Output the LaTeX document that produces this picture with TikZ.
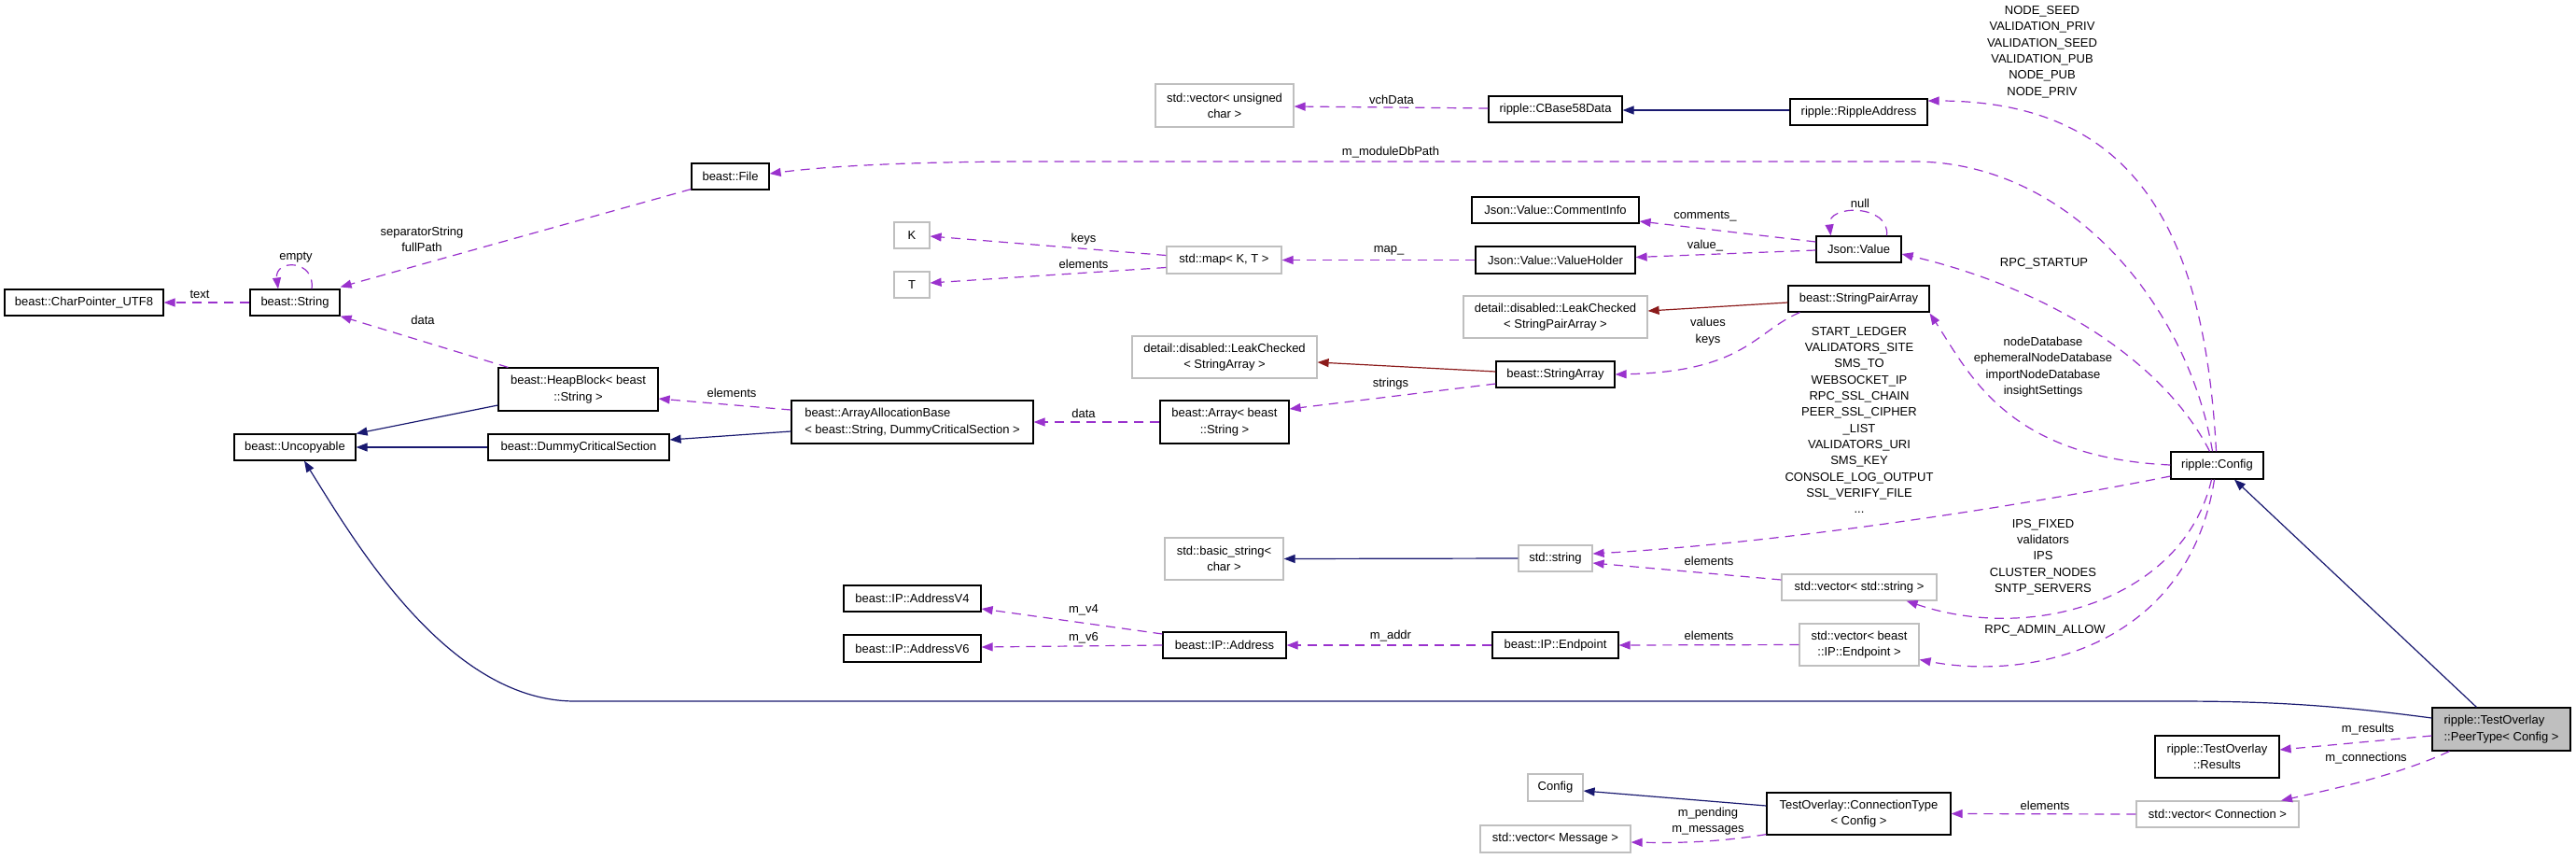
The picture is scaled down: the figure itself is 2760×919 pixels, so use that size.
\documentclass[tikz,border=0pt]{standalone}
\usepackage{fontspec}
\setmainfont{Liberation Sans}
\usetikzlibrary{arrows.meta,calc}
\definecolor{usecol}{RGB}{154,50,205}
\definecolor{inhcol}{RGB}{25,25,112}
\definecolor{redcol}{RGB}{139,26,26}
\definecolor{greycol}{RGB}{191,191,191}
\newcommand{\fs}{\fontsize{13}{17.3}\selectfont}
\tikzset{
  cls/.style={draw=black, line width=1.2pt, inner sep=0pt, align=center, font=\fs, fill=white},
  ext/.style={cls, draw=greycol},
  lbl/.style={inner sep=0pt, align=center, font=\fs},
  tipa/.style={-{Triangle[length=12pt,width=9pt]}},
  use/.style={draw=usecol, line width=1.2pt, dash pattern=on 10pt off 7pt, tipa},
  inh/.style={draw=inhcol, line width=1.2pt, tipa},
  tpl/.style={draw=redcol, line width=1.2pt, tipa},
}
\begin{document}
\begin{tikzpicture}[x=1pt,y=-1pt]
\useasboundingbox (0,0) rectangle (2760,919);
\fill[white] (0,0) rectangle (2760,919);
% ---------------- nodes ----------------
\node[cls, minimum width=170pt, minimum height=28pt] (charp) at (90,324) {beast::CharPointer\_UTF8};
\node[cls, minimum width=96pt, minimum height=28pt] (str) at (316,324) {beast::String};
\node[cls, minimum width=83pt, minimum height=28pt] (file) at (782.5,189) {beast::File};
\node[cls, minimum width=171pt, minimum height=46pt] (heap) at (619.5,417) {beast::HeapBlock< beast\\::String >};
\node[cls, minimum width=130pt, minimum height=28pt] (uncop) at (316,479) {beast::Uncopyable};
\node[cls, minimum width=194pt, minimum height=28pt] (dcs) at (620,479) {beast::DummyCriticalSection};
\node[ext, minimum width=38pt, minimum height=28pt] (K) at (977,252) {K};
\node[ext, minimum width=38pt, minimum height=28pt] (T) at (977,305) {T};
\node[ext, minimum width=123pt, minimum height=29pt] (map) at (1311.5,278.5) {std::map< K, T >};
\node[ext, minimum width=198pt, minimum height=45pt] (lcsa) at (1312,382.5) {detail::disabled::LeakChecked\\< StringArray >};
\node[cls, align=left, minimum width=259pt, minimum height=46pt] (aab) at (977.5,452) {beast::ArrayAllocationBase\\< beast::String, DummyCriticalSection >};
\node[cls, minimum width=138pt, minimum height=46pt] (arr) at (1312,452) {beast::Array< beast\\::String >};
\node[ext, minimum width=148pt, minimum height=46pt] (vuc) at (1312,113) {std::vector< unsigned\\char >};
\node[cls, minimum width=143pt, minimum height=28pt] (cb58) at (1666.5,117) {ripple::CBase58Data};
\node[cls, minimum width=147pt, minimum height=28pt] (ra) at (1991.5,120) {ripple::RippleAddress};
\node[cls, minimum width=179pt, minimum height=28pt] (ci) at (1666.5,225) {Json::Value::CommentInfo};
\node[cls, minimum width=171pt, minimum height=29pt] (vh) at (1666.5,278.5) {Json::Value::ValueHolder};
\node[cls, minimum width=91pt, minimum height=28pt] (jv) at (1991.5,267) {Json::Value};
\node[cls, minimum width=151pt, minimum height=28pt] (spa) at (1991.5,320) {beast::StringPairArray};
\node[ext, minimum width=197pt, minimum height=45pt] (lcspa) at (1666.5,339.5) {detail::disabled::LeakChecked\\< StringPairArray >};
\node[cls, minimum width=127pt, minimum height=28pt] (sa) at (1666.5,401) {beast::StringArray};
\node[ext, minimum width=127pt, minimum height=45pt] (bstr) at (1311.5,598.5) {std::basic\_string<\\char >};
\node[ext, minimum width=79pt, minimum height=28pt] (sstr) at (1666.5,598) {std::string};
\node[ext, minimum width=166pt, minimum height=28pt] (vstr) at (1992,629) {std::vector< std::string >};
\node[cls, minimum width=135pt, minimum height=28pt] (ep) at (1666.5,691) {beast::IP::Endpoint};
\node[ext, minimum width=128pt, minimum height=45pt] (vep) at (1992,690.5) {std::vector< beast\\::IP::Endpoint >};
\node[cls, minimum width=132pt, minimum height=28pt] (addr) at (1312,691) {beast::IP::Address};
\node[cls, minimum width=147pt, minimum height=28pt] (v4) at (977.5,641) {beast::IP::AddressV4};
\node[cls, minimum width=147pt, minimum height=29pt] (v6) at (977.5,694.5) {beast::IP::AddressV6};
\node[cls, minimum width=99pt, minimum height=29pt] (cfg) at (2375.5,498.5) {ripple::Config};
\node[cls, fill=greycol, align=left, minimum width=148pt, minimum height=46pt] (peer) at (2680,781) {ripple::TestOverlay\\::PeerType< Config >};
\node[cls, minimum width=133pt, minimum height=45pt] (res) at (2375.5,810.5) {ripple::TestOverlay\\::Results};
\node[ext, minimum width=174pt, minimum height=28pt] (vconn) at (2376,872) {std::vector< Connection >};
\node[cls, minimum width=197pt, minimum height=45pt] (ct) at (1991.5,871.5) {TestOverlay::ConnectionType\\< Config >};
\node[ext, minimum width=59pt, minimum height=29pt] (cfgT) at (1666.5,843.5) {Config};
\node[ext, minimum width=161pt, minimum height=29pt] (vmsg) at (1666.5,898.5) {std::vector< Message >};
% ---------------- labels ----------------
\node[lbl] (l1) at (214,315) {text};
\node[lbl] (l2) at (317,276) {empty};
\node[lbl] (l3) at (452,256) {separatorString\\fullPath};
\node[lbl] (l4) at (453,343) {data};
\node[lbl] (l5) at (784,421) {elements};
\node[lbl] (l6) at (1161,256) {keys};
\node[lbl] (l7) at (1161,283) {elements};
\node[lbl] (l8) at (1161,443) {data};
\node[lbl] (l9) at (1490,411) {strings};
\node[lbl] (l10) at (1488,268) {map\_};
\node[lbl] (l11) at (1827,232) {comments\_};
\node[lbl] (l12) at (1827,263) {value\_};
\node[lbl] (l13) at (1993,218) {null};
\node[lbl] (l14) at (1491,107) {vchData};
\node[lbl] (l15) at (1490,163) {m\_moduleDbPath};
\node[lbl] (l16) at (2188,55.5) {NODE\_SEED\\VALIDATION\_PRIV\\VALIDATION\_SEED\\VALIDATION\_PUB\\NODE\_PUB\\NODE\_PRIV};
\node[lbl] (l17) at (2190,282) {RPC\_STARTUP};
\node[lbl] (l18) at (1830,355) {values\\keys};
\node[lbl] (l19) at (2189,393) {nodeDatabase\\ephemeralNodeDatabase\\importNodeDatabase\\insightSettings};
\node[lbl] (l20) at (1992,450) {START\_LEDGER\\VALIDATORS\_SITE\\SMS\_TO\\WEBSOCKET\_IP\\RPC\_SSL\_CHAIN\\PEER\_SSL\_CIPHER\hspace*{36pt}\\\_LIST\\VALIDATORS\_URI\\SMS\_KEY\\CONSOLE\_LOG\_OUTPUT\\SSL\_VERIFY\_FILE\\...};
\node[lbl] (l21) at (1831,601) {elements};
\node[lbl] (l22) at (2189,596.5) {IPS\_FIXED\\validators\\IPS\\CLUSTER\_NODES\\SNTP\_SERVERS};
\node[lbl] (l23) at (2191,675) {RPC\_ADMIN\_ALLOW};
\node[lbl] (l24) at (1831,681) {elements};
\node[lbl] (l25) at (1490,681) {m\_addr};
\node[lbl] (l26) at (1161,653) {m\_v4};
\node[lbl] (l27) at (1161,683) {m\_v6};
\node[lbl] (l28) at (2537,781) {m\_results};
\node[lbl] (l29) at (2535,812) {m\_connections};
\node[lbl] (l30) at (2191,863) {elements};
\node[lbl] (l31) at (1830,879.5) {m\_pending\\m\_messages};
% ---------------- usage edges ----------------
\draw[use] (str.west) -- (charp.east);
\draw[use] ($(str.north)+(18,0)$) .. controls ($(str.north)+(22,-32)$) and ($(str.north)+(-22,-32)$) .. ($(str.north)+(-18,0)$);
\draw[use] ($(file.south west)+(0,-1)$) -- ($(str.north east)+(0,-2)$);
\draw[use] ($(heap.north west)+(11,0)$) -- (str.south east);
\draw[use] ($(aab.west)+(0,-13)$) -- ($(heap.east)+(0,10)$);
\draw[use] ($(map.west)+(0,-5)$) -- ($(K.east)+(0,1)$);
\draw[use] ($(map.west)+(0,8)$) -- ($(T.east)+(0,-2)$);
\draw[use] (arr.west) -- (aab.east);
\draw[use] ($(sa.west)+(0,10)$) -- ($(arr.east)+(0,-14)$);
\draw[use] (vh.west) -- (map.east);
\draw[use] ($(jv.west)+(0,-8)$) -- ($(ci.east)+(0,12)$);
\draw[use] ($(jv.west)+(0,1)$) -- ($(vh.east)+(0,-3)$);
\draw[use] ($(jv.north)+(30,0)$) .. controls ($(jv.north)+(34,-34)$) and ($(jv.north)+(-34,-34)$) .. ($(jv.north)+(-30,0)$);
\draw[use] ($(cb58.west)+(0,-1)$) -- ($(vuc.east)+(0,1)$);
\draw[use] ($(spa.south west)+(13,0)$) .. controls (1880,355) and (1870,398) .. (sa.east);
\draw[use] (ep.west) -- (addr.east);
\draw[use] (vep.west) -- (ep.east);
\draw[use] ($(addr.west)+(0,-12)$) -- ($(v4.east)+(0,11)$);
\draw[use] (addr.west) -- ($(v6.east)+(0,-1.5)$);
\draw[use] ($(vstr.west)+(0,-8)$) -- ($(sstr.east)+(0,5)$);
\draw[use] ($(cfg.west)+(0,11.5)$) .. controls (2150,545) and (1900,582) .. ($(sstr.east)+(0,-5)$);
\draw[use] ($(cfg.south)+(-6,0)$) .. controls (2340,640) and (2180,690) .. ($(vstr.south east)+(-33,0)$);
\draw[use] ($(cfg.south)+(-3,0)$) .. controls (2345,690) and (2180,730) .. ($(vep.east)+(0,16)$);
\draw[use] ($(cfg.west)+(0,-0.5)$) .. controls (2150,490) and (2110,400) .. ($(spa.south east)+(0,1)$);
\draw[use] ($(cfg.north)+(-8,0)$) .. controls (2320,390) and (2200,310) .. ($(jv.east)+(0,5)$);
\draw[use] ($(cfg.north)+(-5,0)$) .. controls (2345,330) and (2220,173) .. (2050,173) -- (1110,173) .. controls (950,173) and (870,180) .. ($(file.east)+(0,-3)$);
\draw[use] ($(cfg.north)+(-1,0)$) .. controls (2362,250) and (2290,108) .. ($(ra.east)+(0,-12)$);
\draw[use] ($(peer.west)+(0,7)$) -- ($(res.east)+(0,-7.5)$);
\draw[use] ($(peer.south west)+(19,0)$) .. controls (2570,830) and (2500,845) .. ($(vconn.north)+(68,0)$);
\draw[use] (vconn.west) -- (ct.east);
\draw[use] ($(ct.south west)+(0,-1)$) .. controls (1840,902) and (1800,903) .. ($(vmsg.east)+(0,3.5)$);
% ---------------- inheritance edges ----------------
\draw[inh] ($(heap.west)+(0,17)$) -- (uncop.north east);
\draw[inh] (dcs.west) -- (uncop.east);
\draw[inh] ($(aab.west)+(0,10)$) -- ($(dcs.east)+(0,-8)$);
\draw[inh] ($(ra.west)+(0,-2)$) -- ($(cb58.east)+(0,1)$);
\draw[inh] (sstr.west) -- (bstr.east);
\draw[inh] ($(peer.north west)+(48,0)$) -- ($(cfg.south)+(18.5,0)$);
\draw[inh] ($(peer.west)+(0,-12)$) .. controls (2500,755) and (2430,751) .. (2330,751) -- (616,751) .. controls (480,751) and (380,580) .. ($(uncop.south)+(10,0)$);
\draw[inh] ($(ct.west)+(0,-8.5)$) -- ($(cfgT.east)+(0,3.5)$);
% ---------------- template edges ----------------
\draw[tpl] ($(spa.west)+(0,4)$) -- ($(lcspa.east)+(0,-6.5)$);
\draw[tpl] ($(sa.west)+(0,-3)$) -- ($(lcsa.east)+(0,5.5)$);
\end{tikzpicture}
\end{document}
